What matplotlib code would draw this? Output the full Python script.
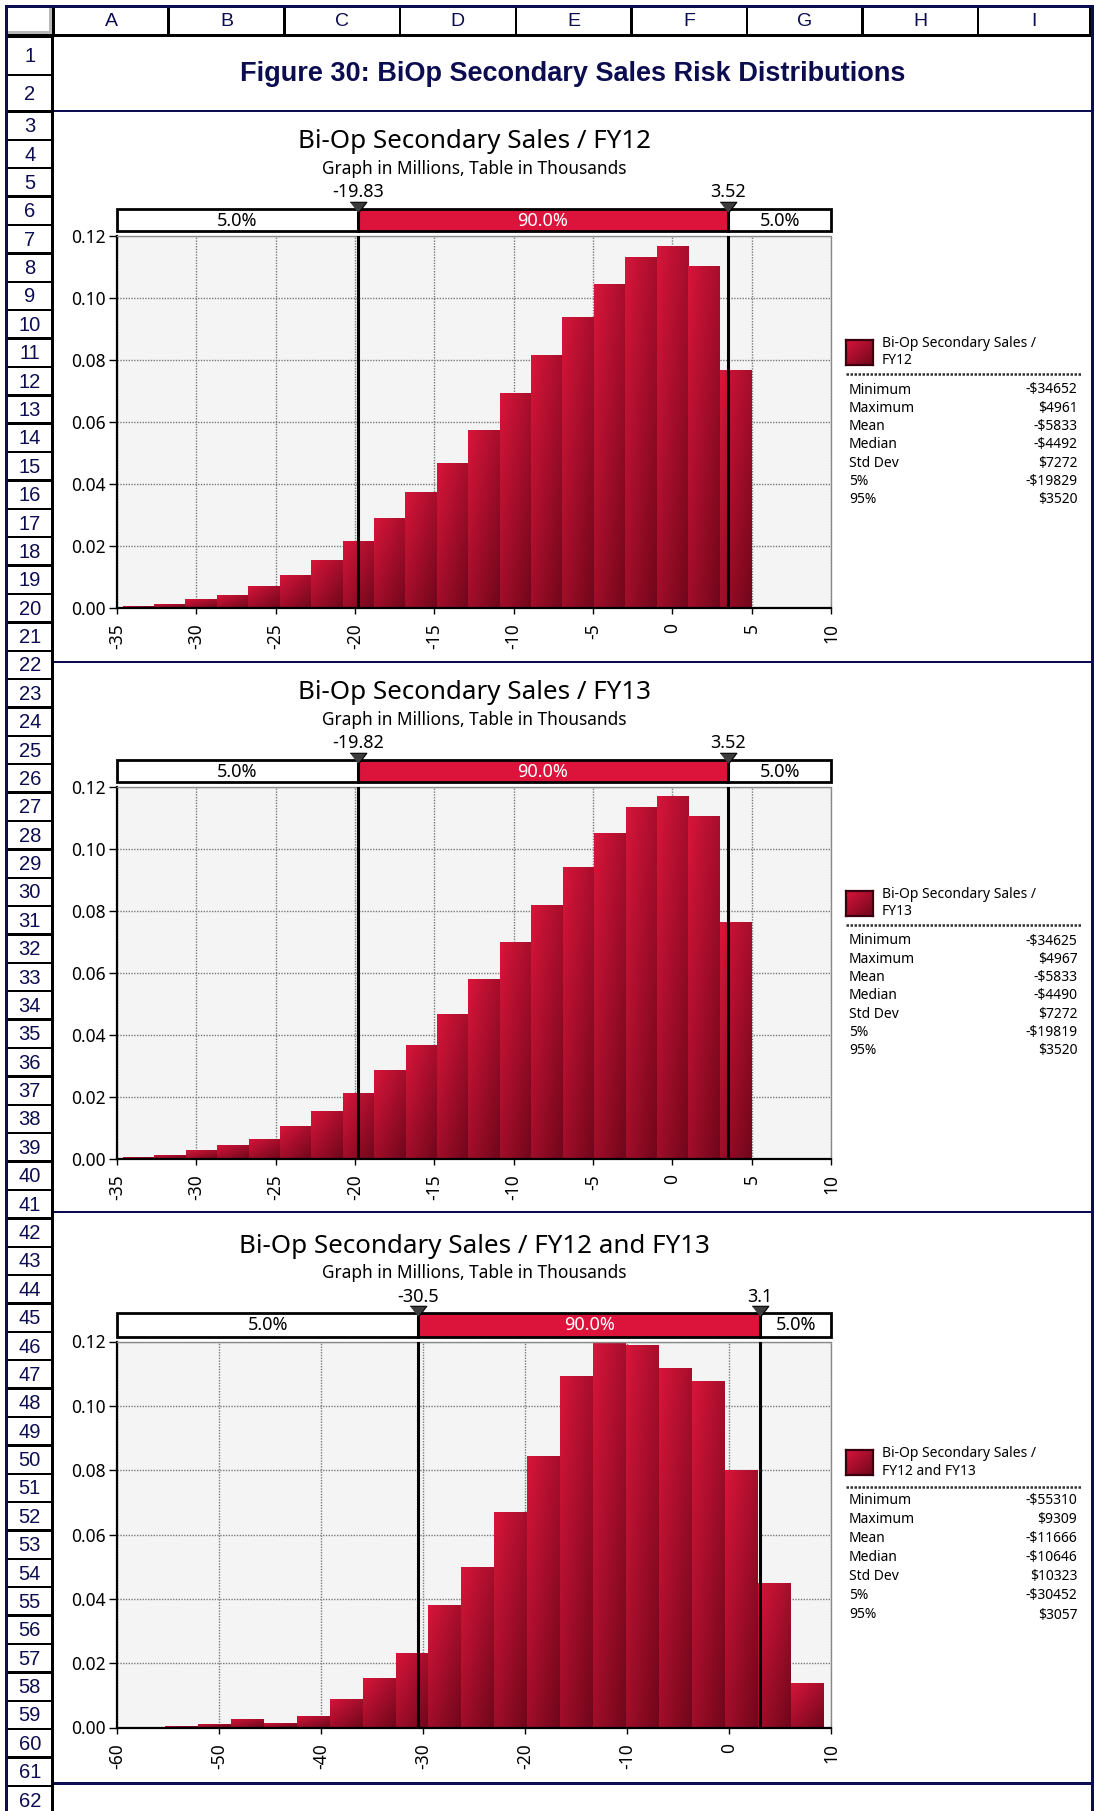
import numpy as np
import matplotlib
matplotlib.use("Agg")
import matplotlib.pyplot as plt
from matplotlib.patches import Rectangle
from matplotlib.colors import to_rgb

# ---------------- data ----------------
fig_title = "Figure 30: BiOp Secondary Sales Risk Distributions"
col_letters = ["A", "B", "C", "D", "E", "F", "G", "H", "I"]
row_numbers = list(range(1, 63))

chart_titles = ["Bi-Op Secondary Sales / FY12",
                "Bi-Op Secondary Sales / FY13",
                "Bi-Op Secondary Sales / FY12 and FY13"]
chart_subtitle = "Graph in Millions, Table in Thousands"
legend_labels = ["Bi-Op Secondary Sales /\nFY12",
                 "Bi-Op Secondary Sales /\nFY13",
                 "Bi-Op Secondary Sales /\nFY12 and FY13"]

probs_fy12 = [0.0008, 0.0014, 0.0028, 0.0043, 0.0072, 0.0107, 0.0155, 0.0216,
              0.0290, 0.0373, 0.0466, 0.0575, 0.0694, 0.0816, 0.0938, 0.1044,
              0.1130, 0.1166, 0.1102, 0.0768]
probs_fy13 = [0.0008, 0.0014, 0.0028, 0.0046, 0.0065, 0.0107, 0.0156, 0.0214,
              0.0288, 0.0368, 0.0468, 0.0581, 0.0700, 0.0819, 0.0941, 0.1051,
              0.1135, 0.1170, 0.1106, 0.0764]
probs_both = [0.0004, 0.0010, 0.0027, 0.0014, 0.0036, 0.0089, 0.0155, 0.0233,
              0.0382, 0.0498, 0.0669, 0.0844, 0.1093, 0.1196, 0.1188, 0.1118,
              0.1077, 0.0800, 0.0448, 0.0139]

stat_names = ["Minimum", "Maximum", "Mean", "Median", "Std Dev", "5%", "95%"]
stats_fy12 = [-34652, 4961, -5833, -4492, 7272, -19829, 3520]
stats_fy13 = [-34625, 4967, -5833, -4490, 7272, -19819, 3520]
stats_both = [-55310, 9309, -11666, -10646, 10323, -30452, 3057]

marker_labels_fy12 = ["-19.83", "3.52"]
marker_labels_fy13 = ["-19.82", "3.52"]
marker_labels_both = ["-30.5", "3.1"]
band_labels = ["5.0%", "90.0%", "5.0%"]

xticks_fy = [-35, -30, -25, -20, -15, -10, -5, 0, 5, 10]
xticks_both = [-60, -50, -40, -30, -20, -10, 0, 10]
yticks = [0.00, 0.02, 0.04, 0.06, 0.08, 0.10, 0.12]

# ---------------- style ----------------
W, H = 1094, 1811
NAVY = "#0c0c50"
CRIMSON = "#dc143c"
BAR_TOP = np.array(to_rgb("#d8153a"))
BAR_DARK = np.array(to_rgb("#6a0619"))
SHEET_FONT = "Liberation Sans"
CHART_FONT = "Noto Sans"

fig = plt.figure(figsize=(W / 100, H / 100), dpi=100)
fig.patch.set_facecolor("white")


def fax(x0, y0, x1, y1, **kw):
    return fig.add_axes([x0 / W, 1 - y1 / H, (x1 - x0) / W, (y1 - y0) / H], **kw)


# background sheet axes in pixel coordinates
bg = fax(0, 0, W, H)
bg.set_xlim(0, W)
bg.set_ylim(H, 0)
bg.axis("off")


def rect(ax, x0, y0, x1, y1, **kw):
    ax.add_patch(Rectangle((x0, y0), x1 - x0, y1 - y0, **kw))


# outer navy frame
rect(bg, 4.5, 4.5, 1094, 7.5, color=NAVY, lw=0)
rect(bg, 4.5, 4.5, 7.7, H, color=NAVY, lw=0)
rect(bg, 1090.5, 4.5, 1094, H, color=NAVY, lw=0)
# header row and row-number column (black grid)
rect(bg, 7.7, 7.5, 1090.5, 36.5, color="black", lw=0)
rect(bg, 7.7, 7.5, 53.8, H, color="black", lw=0)

col_bounds = [53.6, 168.5, 284.5, 400.0, 515.8, 631.3, 746.8, 862.3, 977.8, 1090.5]
rect(bg, 8.2, 8.3, 51.5, 34.3, color="white", lw=0)
rect(bg, 48.5, 8.3, 51.5, 34.3, color="#b8b8b8", lw=0)
rect(bg, 8.2, 31.3, 51.5, 34.3, color="#b8b8b8", lw=0)
for i, letter in enumerate(col_letters):
    a, b = col_bounds[i], col_bounds[i + 1]
    rect(bg, a + 1.3, 8.3, b - 1.3, 34.3, color="white", lw=0)
    bg.text((a + b) / 2, 22, letter, ha="center", va="center",
            fontsize=14, color=NAVY, family=SHEET_FONT)

row_edges = [36.5, 75.2, 111.5]
for r in row_numbers[2:]:
    row_edges.append(111.5 + (r - 2) * 28.38)
for i, r in enumerate(row_numbers):
    top, bot = row_edges[i], min(row_edges[i + 1], H + 5)
    rect(bg, 8.2, top + 1.2, 51.3, bot - 1.2, color="white", lw=0)
    bg.text(29.8, (top + bot) / 2 + 1, str(r), ha="center", va="center",
            fontsize=14.5, color=NAVY, family=SHEET_FONT)

# content area
rect(bg, 53.8, 36.5, 1090.5, H, color="white", lw=0)
for ysep in [110.7, 661.7, 1211.8, 1783.3]:
    rect(bg, 53.8, ysep - 1.2, 1090.5, ysep + 1.2, color=NAVY, lw=0)

bg.text(572.7, 74, fig_title, ha="center", va="center", fontsize=19.5,
        fontweight="bold", color=NAVY, family=SHEET_FONT)

# ---------------- charts ----------------
PL, PR = 117.0, 831.0
charts = [
    dict(probs=probs_fy12, stats=stats_fy12, mlabels=marker_labels_fy12,
         xticks=xticks_fy, xlim=(-35, 10), title=chart_titles[0], leg=legend_labels[0],
         T=235.7, B=608.0, band=(208.7, 231.0), mark_y=191.7, sub_y=169.3, title_y=141.7,
         sq=(340.0, 365.0), txt=(343.5, 360.5), div=374.3, st0=390.0, stp=18.33),
    dict(probs=probs_fy13, stats=stats_fy13, mlabels=marker_labels_fy13,
         xticks=xticks_fy, xlim=(-35, 10), title=chart_titles[1], leg=legend_labels[1],
         T=786.7, B=1159.0, band=(759.7, 782.0), mark_y=742.7, sub_y=720.3, title_y=692.7,
         sq=(891.0, 916.0), txt=(894.5, 911.5), div=925.3, st0=941.0, stp=18.33),
    dict(probs=probs_both, stats=stats_both, mlabels=marker_labels_both,
         xticks=xticks_both, xlim=(-60, 10), title=chart_titles[2], leg=legend_labels[2],
         T=1341.5, B=1727.5, band=(1312.7, 1336.7), mark_y=1296.7, sub_y=1273.5, title_y=1246.5,
         sq=(1450.0, 1475.0), txt=(1453.5, 1471.5), div=1486.7, st0=1500.7, stp=19.05),
]


def gradient_image(nx=40, ny=80):
    u = np.linspace(0, 1, nx)[None, :]
    v = np.linspace(1, 0, ny)[:, None]  # row 0 = top
    t = 0.45 * u + 0.5 * (1 - v)
    t = np.clip(t, 0, 1)[..., None]
    return BAR_TOP * (1 - t) + BAR_DARK * t


GRAD = gradient_image()
TRI = [(-8, 5), (8, 5), (0, -5.5)]


def fmt_money(v):
    return ("-" if v < 0 else "") + "$" + str(abs(v))


for c in charts:
    ax = fax(PL, c["T"], PR, c["B"])
    ax.set_facecolor("#f4f4f4")
    vmin, vmax = c["stats"][0] / 1000.0, c["stats"][1] / 1000.0
    edges = np.linspace(vmin, vmax, len(c["probs"]) + 1)
    widths = np.diff(edges)
    bars = ax.bar(edges[:-1], c["probs"], width=widths, align="edge",
                  color="#a50d2c", linewidth=0, zorder=2)
    for patch in bars.patches:
        x0 = patch.get_x()
        w = patch.get_width()
        h = patch.get_height()
        im = ax.imshow(GRAD, extent=(x0, x0 + w, 0, h), aspect="auto",
                       interpolation="bilinear", zorder=2.1)
        im.set_clip_path(patch)
    ax.set_xlim(*c["xlim"])
    ax.set_ylim(0, 0.12)
    ax.set_aspect("auto")
    ax.set_xticks(c["xticks"])
    ax.set_xticklabels([str(t) for t in c["xticks"]], rotation=90,
                       family=CHART_FONT, fontsize=12.5)
    ax.set_yticks(yticks)
    ax.set_yticklabels([f"{v:.2f}" for v in yticks], family=CHART_FONT, fontsize=12.5)
    ax.tick_params(axis="x", direction="out", length=4, width=1, pad=7)
    ax.tick_params(axis="y", direction="out", length=5.5, width=1, pad=2.5)
    ax.grid(True, color="#7a7a7a", linestyle=(0, (1, 1)), linewidth=1.0)
    ax.set_axisbelow(True)
    for s in ["left", "bottom"]:
        ax.spines[s].set_color("black")
        ax.spines[s].set_linewidth(1.6)
    for s in ["top", "right"]:
        ax.spines[s].set_color("#8a8a8a")
        ax.spines[s].set_linestyle((0, (1, 1)))
        ax.spines[s].set_linewidth(1.0)
    p5, p95 = c["stats"][5] / 1000.0, c["stats"][6] / 1000.0
    for p in (p5, p95):
        ax.axvline(p, color="black", linewidth=2.2, zorder=5)

    # percentile band
    b0, b1 = c["band"]
    pax = fax(PL, b0, PR, b1)
    pax.set_xlim(*c["xlim"])
    pax.set_ylim(0, 1)
    pax.axis("off")
    xl0, xl1 = c["xlim"]
    segs = [(xl0, p5, "white", "black"), (p5, p95, CRIMSON, "white"), (p95, xl1, "white", "black")]
    for (a, b, fc, tc), lab in zip(segs, band_labels):
        pax.add_patch(Rectangle((a, 0), b - a, 1, facecolor=fc, edgecolor="black",
                                linewidth=2.0, clip_on=False))
        pax.text((a + b) / 2, 0.47, lab, ha="center", va="center", color=tc,
                 family=CHART_FONT, fontsize=13)
    band_h = b1 - b0
    for p, lab in zip((p5, p95), c["mlabels"]):
        pax.plot([p, p], [0, 1], color="black", linewidth=2.2, clip_on=False)
        pax.plot([p], [1 + 2.0 / band_h], marker=TRI, markersize=12,
                 color="#3c3c3c", markeredgecolor="black", markeredgewidth=0.8,
                 clip_on=False, zorder=6)
        pax.text(p, 1 + (b0 - c["mark_y"]) / band_h, lab, ha="center", va="center",
                 family=CHART_FONT, fontsize=13, color="black", clip_on=False)

    # titles
    cx = (PL + PR) / 2
    bg.text(cx, c["title_y"], c["title"], ha="center", va="center",
            family=CHART_FONT, fontsize=18.7, color="black")
    bg.text(cx, c["sub_y"], chart_subtitle, ha="center", va="center",
            family=CHART_FONT, fontsize=12.4, color="black")

    # legend
    s0, s1 = c["sq"]
    lax = fax(846, s0, 873, s1)
    lax.imshow(GRAD, aspect="auto", interpolation="bilinear")
    lax.set_xticks([])
    lax.set_yticks([])
    for sp in lax.spines.values():
        sp.set_color("#3a0010")
        sp.set_linewidth(1.6)
    l1, l2 = c["leg"].split("\n")
    bg.text(881.7, c["txt"][0], l1, ha="left", va="center", family=CHART_FONT,
            fontsize=10, color="black")
    bg.text(881.7, c["txt"][1], l2, ha="left", va="center", family=CHART_FONT,
            fontsize=10, color="black")
    bg.plot([846, 1080.7], [c["div"], c["div"]], color="#303030",
            linestyle=(0, (1, 0.6)), linewidth=1.8)
    for i, (name, val) in enumerate(zip(stat_names, c["stats"])):
        yy = c["st0"] + i * c["stp"]
        bg.text(849, yy, name, ha="left", va="center", family=CHART_FONT,
                fontsize=10, color="black")
        bg.text(1077.3, yy, fmt_money(val), ha="right", va="center",
                family=CHART_FONT, fontsize=10, color="black")

fig.savefig("out.png", dpi=100, facecolor="white")
